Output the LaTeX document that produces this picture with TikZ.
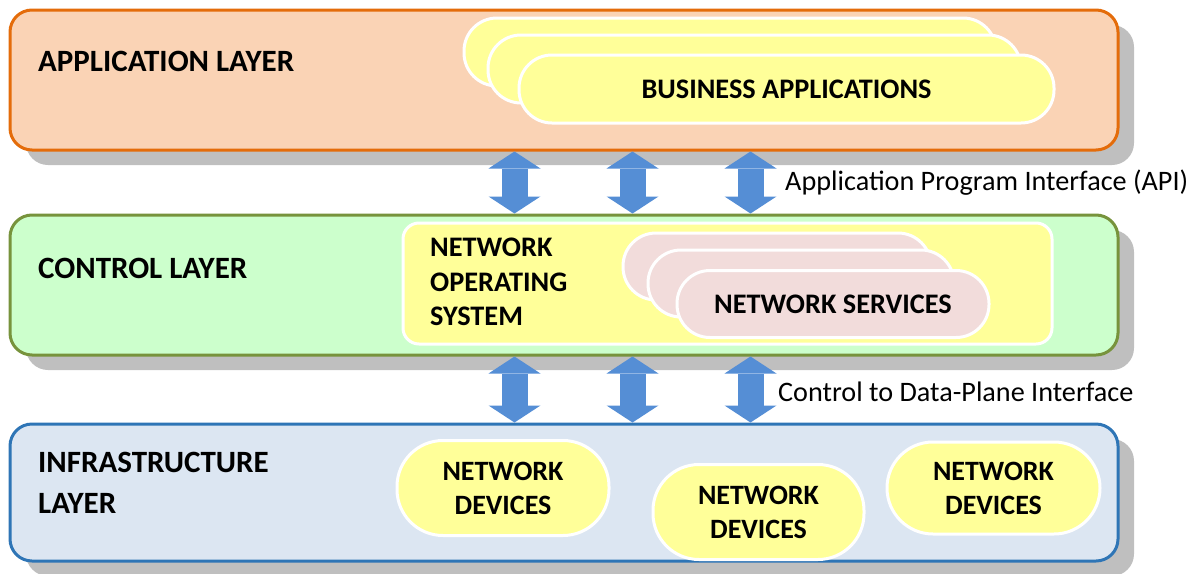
\documentclass[tikz,border=0pt]{standalone}
\usepackage{fontspec}
\setmainfont{Carlito}
\usetikzlibrary{calc,shadows,arrows.meta}
\definecolor{appfill}{HTML}{FAD3B5}
\definecolor{appline}{HTML}{E46C0A}
\definecolor{ctrlfill}{HTML}{CCFFCC}
\definecolor{ctrlline}{HTML}{77933C}
\definecolor{infrafill}{HTML}{DCE6F2}
\definecolor{infraline}{HTML}{2E75B6}
\definecolor{shadowgray}{HTML}{BFBFBF}
\definecolor{softyellow}{HTML}{FFFF99}
\definecolor{softpink}{HTML}{F2DCDB}
\definecolor{arrowblue}{HTML}{558ED5}
\begin{document}
\begin{tikzpicture}[x=1pt,y=-1pt,
  layer/.style={draw, line width=3pt, rounded corners=22pt, inner sep=0pt,
    drop shadow={shadow xshift=16pt, shadow yshift=-15pt, fill=shadowgray, opacity=1}},
  pill/.style={draw=white, line width=3pt, rounded corners=33pt, inner sep=0pt},
  devbox/.style={draw=white, line width=3pt, fill=softyellow, rounded corners=46pt, inner sep=0pt,
    align=center, font=\fontsize{28}{34}\selectfont\bfseries},
  titletext/.style={font=\fontsize{31}{41}\selectfont\bfseries, inner sep=0pt, anchor=west, align=left},
  bigtext/.style={font=\fontsize{28.3}{34.5}\selectfont\bfseries, inner sep=0pt, anchor=west, align=left},
  lbl/.style={font=\fontsize{28.2}{32}\selectfont, inner sep=0pt, anchor=west},
  blk/.style={draw=arrowblue, line width=26pt,
    {Triangle[length=17pt,width=52pt,line width=0pt]}-{Triangle[length=17pt,width=52pt,line width=0pt]}}]
\useasboundingbox (0,0) rectangle (1193,573);

% layers
\node[layer, fill=appfill, draw=appline, minimum width=1108pt, minimum height=140pt] (app) at (564,80) {};
\node[layer, fill=ctrlfill, draw=ctrlline, minimum width=1108pt, minimum height=140pt] (ctrl) at (564,285) {};
\node[layer, fill=infrafill, draw=infraline, minimum width=1108pt, minimum height=137pt] (infra) at (564,492.5) {};

% layer titles
\node[titletext] (apptitle) at (38,61) {APPLICATION LAYER};
\node[titletext] (ctrltitle) at (38,268) {CONTROL LAYER};
\node[titletext] (infratitle) at (38,483) {INFRASTRUCTURE\\LAYER};

% business applications stack
\node[pill, fill=softyellow, minimum width=532pt, minimum height=68pt] (ba3) at (730,52) {};
\node[pill, fill=softyellow, minimum width=533pt, minimum height=68pt] (ba2) at (754.5,69) {};
\node[pill, fill=softyellow, minimum width=535pt, minimum height=68pt,
  font=\fontsize{28.3}{32}\selectfont\bfseries] (ba1) at (786.5,89) {BUSINESS APPLICATIONS};

% network operating system
\node[draw=white, line width=3pt, fill=softyellow, rounded corners=16pt,
  minimum width=649pt, minimum height=121pt, inner sep=0pt] (nos) at (727.5,283.5) {};
\node[bigtext] (nostext) at (430,282) {NETWORK\\OPERATING\\SYSTEM};
\node[pill, fill=softpink, minimum width=308pt, minimum height=67pt] (ns3) at (777,266.5) {};
\node[pill, fill=softpink, minimum width=306pt, minimum height=67pt] (ns2) at (801,283.5) {};
\node[pill, fill=softpink, minimum width=312pt, minimum height=67pt,
  font=\fontsize{28.3}{32}\selectfont\bfseries] (ns1) at (833,304) {NETWORK SERVICES};

% network devices
\node[devbox, minimum width=212pt, minimum height=95pt] (dev1) at (503,488) {NETWORK\\DEVICES};
\node[devbox, minimum width=211pt, minimum height=95pt] (dev2) at (758.5,512) {NETWORK\\DEVICES};
\node[devbox, minimum width=213pt, minimum height=92pt] (dev3) at (993.5,488) {NETWORK\\DEVICES};

% interface arrows
\foreach \dx [count=\i] in {506,624,742}{
  \draw[blk] ($(app.south west)+(\dx,0)$) -- ($(ctrl.north west)+(\dx,0)$);
  \draw[blk] ($(ctrl.south west)+(\dx,0)$) -- ($(infra.north west)+(\dx,0)$);
}

% interface labels
\node[lbl] (apilbl) at (785,183) {Application Program Interface (API)};
\node[lbl] (cdpilbl) at (778,392) {Control to Data-Plane Interface};
\end{tikzpicture}
\end{document}
